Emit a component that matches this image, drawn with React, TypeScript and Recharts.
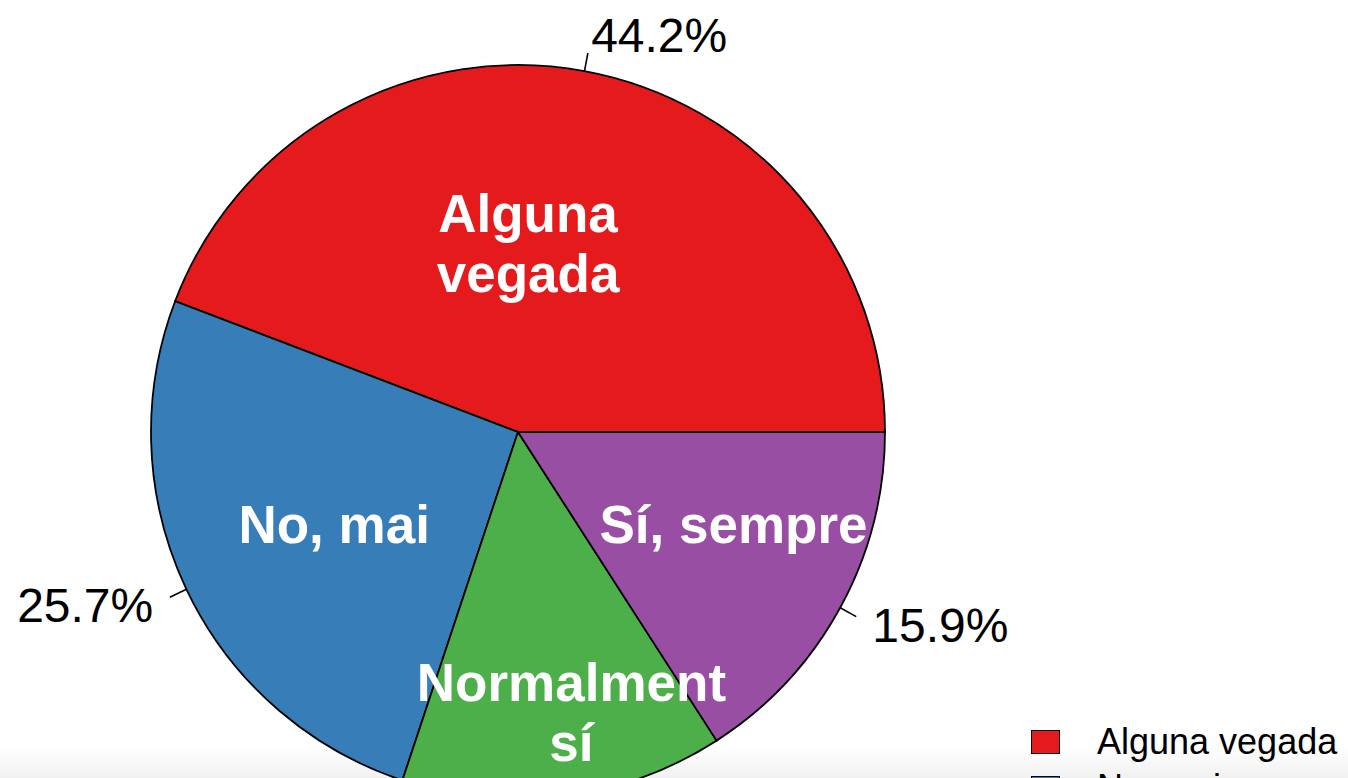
import { PieChart, Pie, Cell, Legend } from "recharts";

// answer categories, in drawing order (counter-clockwise from 3 o'clock)
const categories = ["Alguna vegada", "No, mai", "Normalment sí", "Sí, sempre"];
const shares = [44.2, 25.7, 14.2, 15.9];
const colors = ["#E41A1C", "#377EB8", "#4DAF4A", "#984EA3"];
const sliceLines = [["Alguna", "vegada"], ["No, mai"], ["Normalment", "sí"], ["Sí, sempre"]];

const data = categories.map((name, i) => ({ name, value: shares[i] }));

// where the white names sit inside each slice (radius factor, angle shift in degrees)
const namePlacement = [
  { rf: 0.516, da: 7.4 },
  { rf: 0.56, da: 1.2 },
  { rf: 0.777, da: 3.6 },
  { rf: 0.638, da: 5.6 },
];

const FONT = '"Liberation Sans", Arial, Helvetica, sans-serif';
const RAD = Math.PI / 180;

const renderLabel = (props: any) => {
  const { cx, cy, midAngle, outerRadius, index } = props;
  const c = Math.cos(midAngle * RAD);
  const s = Math.sin(midAngle * RAD);
  const x1 = cx + outerRadius * c;
  const y1 = cy - outerRadius * s;
  const x2 = cx + outerRadius * 1.05 * c;
  const y2 = cy - outerRadius * 1.05 * s;
  const tx = cx + outerRadius * 1.1 * c;
  const ty = cy - outerRadius * 1.1 * s;

  // inner name
  const p = namePlacement[index];
  const a2 = (midAngle + p.da) * RAD;
  const nx = cx + outerRadius * p.rf * Math.cos(a2);
  const ny = cy - outerRadius * p.rf * Math.sin(a2);
  const lines = sliceLines[index];

  return (
    <g>
      <line x1={x1} y1={y1} x2={x2} y2={y2} stroke="#000" strokeWidth={1.6} />
      <text
        x={tx}
        y={ty + 17}
        textAnchor={c >= 0 ? "start" : "end"}
        fontSize={48}
        fontFamily={FONT}
        fill="#000"
      >
        {`${shares[index].toFixed(1)}%`}
      </text>
      {lines.map((ln, i) => (
        <text
          key={ln}
          x={nx}
          y={ny - (lines.length - 1) * 30 + i * 60 + 19}
          textAnchor="middle"
          fontSize={53}
          fontWeight="bold"
          fontFamily={FONT}
          fill="#fff"
        >
          {ln}
        </text>
      ))}
    </g>
  );
};

const renderLegend = () => (
  <div style={{ fontFamily: FONT, fontSize: 36, color: "#000" }}>
    {categories.map((name, i) => (
      <div key={name} style={{ display: "flex", alignItems: "center", height: 24, marginBottom: 22 }}>
        <div
          style={{
            width: 27,
            height: 22,
            background: colors[i],
            border: "1px solid #000",
            marginRight: 37,
          }}
        />
        <span style={{ lineHeight: 1, whiteSpace: "nowrap" }}>{name}</span>
      </div>
    ))}
  </div>
);

const App = () => {
  return (
    <div
      style={{
        position: "absolute",
        left: 0,
        top: 0,
        width: 1348,
        height: 778,
        overflow: "hidden",
        background: "linear-gradient(to bottom, #fff 0px, #fff 745px, #f1f1f1 778px)",
      }}
    >
      <PieChart width={1348} height={1000} margin={{ top: 0, right: 0, bottom: 0, left: 0 }}>
        <Pie
          data={data}
          dataKey="value"
          nameKey="name"
          cx={518}
          cy={432}
          outerRadius={367}
          startAngle={0}
          endAngle={360}
          label={renderLabel}
          labelLine={false}
          isAnimationActive={false}
        >
          {data.map((d, i) => (
            <Cell key={d.name} fill={colors[i]} stroke="#000" strokeWidth={1.8} />
          ))}
        </Pie>
        <Legend
          layout="vertical"
          verticalAlign="top"
          align="right"
          content={renderLegend}
          wrapperStyle={{ left: 1031, top: 730, width: 320 }}
        />
      </PieChart>
    </div>
  );
};

export default App;
